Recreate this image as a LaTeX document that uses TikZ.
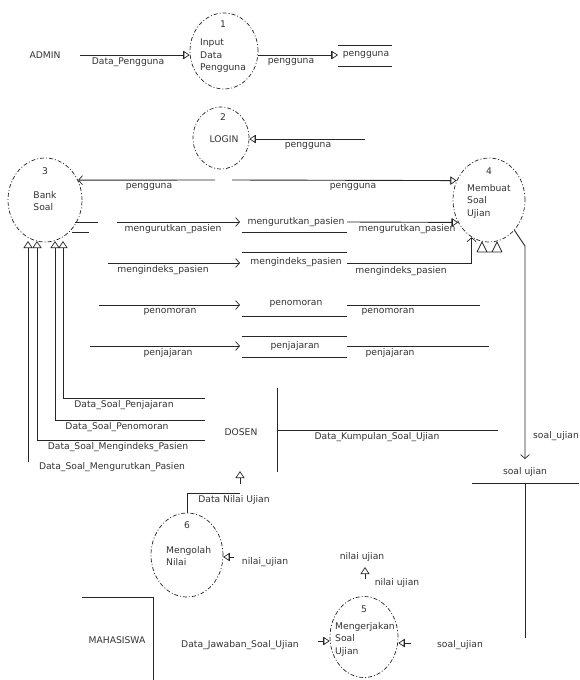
\documentclass[tikz,border=0pt]{standalone}
\usepackage{fontspec}
\setmainfont{DejaVu Sans}
\usetikzlibrary{shapes.geometric,arrows.meta}
\newcommand\lblfont{\fontsize{9.2}{12.5}\selectfont}
\begin{document}
\begin{tikzpicture}[x=1pt,y=-1pt,
 proc/.style={ellipse, draw=black!85, dash pattern=on 4pt off 2pt on 1pt off 2pt, line width=0.7pt, inner sep=0pt},
 lbl/.style={font=\lblfont, text=black!80, inner sep=0pt},
 ln/.style={draw=black!85, line width=0.9pt},
 tri/.style={ln, -{Bar[width=8pt,line width=0.7pt]Triangle[open,length=6pt,width=8pt,line width=0.7pt]}},
 chev/.style={ln, -{Straight Barb[length=4pt,width=9pt,line width=0.7pt]}},
 opentri/.style={ln, -{Triangle[open,length=7pt,width=9pt,line width=0.7pt]}}]
\useasboundingbox (0,0) rectangle (579,680);
\fill[white] (0,0) rectangle (579,680);

% processes
\node[proc, minimum width=68pt, minimum height=76pt] (p1) at (224,51) {};
\node[proc, minimum width=56pt, minimum height=62pt] (p2) at (221,138) {};
\node[proc, minimum width=74pt, minimum height=84pt] (p3) at (45,200) {};
\node[proc, minimum width=72pt, minimum height=84pt] (p4) at (489,200) {};
\node[proc, minimum width=72pt, minimum height=84pt] (p6) at (187,555) {};
\node[proc, minimum width=68pt, minimum height=81pt] (p5) at (364,637) {};

% process texts
\node[lbl] (p1n) at (223,24) {1};
\node[lbl, anchor=west, align=left] (p1t) at (200,56) {Input\\Data\\Pengguna};
\node[lbl] (p2n) at (223,117) {2};
\node[lbl] (p2t) at (224,139) {LOGIN};
\node[lbl] (p3n) at (45,171) {3};
\node[lbl, align=left] (p3t) at (45,201) {Bank\\Soal};
\node[lbl] (p4n) at (489,171) {4};
\node[lbl, anchor=west, align=left] (p4t) at (467,201) {Membuat\\Soal\\Ujian};
\node[lbl] (p6n) at (187,525) {6};
\node[lbl, anchor=west, align=left] (p6t) at (166,556) {Mengolah\\Nilai};
\node[lbl] (p5n) at (364,609) {5};
\node[lbl, anchor=west, align=left] (p5t) at (335,639) {Mengerjakan\\Soal\\Ujian};

% external entities
\node[lbl] (admin) at (45,55) {ADMIN};
\node[lbl] (dosen) at (241,432) {DOSEN};
\node[lbl] (mhs) at (117,640) {MAHASISWA};
\draw[ln] (277,388) -- (277,472);
\draw[ln] (82,597) -- (153,597) -- (153,680);

% data stores
\node[lbl] (sPeng) at (366,55) {pengguna};
\node[lbl] (sUrut) at (296,222) {mengurutkan\_pasien};
\node[lbl] (sIdx) at (296,262) {mengindeks\_pasien};
\node[lbl] (sNom) at (296,304) {penomoran};
\node[lbl] (sJaj) at (295,346) {penjajaran};
\node[lbl] (sSoal) at (525,472) {soal ujian};
\draw[ln] (338,45) -- (392,45) (338,66) -- (392,66);
\draw[ln] (242,232) -- (347,232);
\draw[ln] (242,252) -- (347,252);
\draw[ln] (242,316) -- (347,316);
\draw[ln] (242,336) -- (347,336) (242,357) -- (347,357);
\draw[ln] (472,483) -- (579,483);
\draw[ln] (75,222) -- (98,222) (72,232) -- (89,232);

% ADMIN -> 1
\coordinate (aR) at (80,55);
\draw[tri] (aR) -- (aR -| p1.west);
\node[lbl] (l1) at (128,62) {Data\_Pengguna};
% 1 -> pengguna
\coordinate (s1L) at (338,55);
\draw[tri] (s1L -| p1.east) -- (s1L);
\node[lbl] (l2) at (291,62) {pengguna};
% pengguna -> LOGIN
\coordinate (lgR) at (365,139);
\draw[tri] (lgR) -- (lgR -| p2.east);
\node[lbl] (l3) at (308,146) {pengguna};
% pengguna -> 3 and 4
\coordinate (pgL) at (215,180);
\coordinate (pgR) at (232,180);
\draw[chev] (pgL) -- (p3.31);
\draw[tri] (pgR) -- (p4.149);
\node[lbl] (l4) at (149,187) {pengguna};
\node[lbl] (l5) at (353,187) {pengguna};

% mengurutkan_pasien
\coordinate (u1L) at (117,222); \coordinate (u1T) at (240,222); \coordinate (u1R) at (347,222);
\draw[chev] (u1L) -- (u1T);
\draw[tri] (u1R) -- (p4.216);
\node[lbl] (l6) at (173,229) {mengurutkan\_pasien};
\node[lbl] (l7) at (407,229) {mengurutkan\_pasien};
% mengindeks_pasien
\coordinate (i1L) at (108,263); \coordinate (i1T) at (240,263); \coordinate (i1R) at (347,263);
\draw[chev] (i1L) -- (i1T);
\draw[chev] (i1R) -| (p4.245);
\node[lbl] (l8) at (163,270) {mengindeks\_pasien};
\node[lbl] (l9) at (401,271) {mengindeks\_pasien};
% penomoran
\coordinate (n1L) at (99,305); \coordinate (n1T) at (240,305); \coordinate (n1R) at (347,305); \coordinate (n1E) at (480,305);
\draw[chev] (n1L) -- (n1T);
\draw[ln] (n1R) -- (n1E);
\node[lbl] (l10) at (170,312) {penomoran};
\node[lbl] (l11) at (388,312) {penomoran};
% penjajaran
\coordinate (j1L) at (90,346); \coordinate (j1T) at (240,346); \coordinate (j1R) at (347,346); \coordinate (j1E) at (489,346);
\draw[chev] (j1L) -- (j1T);
\draw[ln] (j1R) -- (j1E);
\node[lbl] (l12) at (168,353) {penjajaran};
\node[lbl] (l13) at (390,353) {penjajaran};
% arrow heads under 4
\draw[ln, line width=0.7pt] (477,252) -- (482,242) -- (487,252) (492,252) -- (497,242) -- (502,252) (477,252) -- (502,252);

% DOSEN -> Bank Soal
\coordinate (b1) at (63,241); \coordinate (b2) at (55,241); \coordinate (b3) at (37,241); \coordinate (b4) at (28,241);
\coordinate (d1) at (205,398); \coordinate (d2) at (205,420); \coordinate (d3) at (205,440); \coordinate (d4) at (28,462);
\draw[opentri] (d1) -| (b1);
\draw[opentri] (d2) -| (b2);
\draw[opentri] (d3) -| (b3);
\draw[opentri] (d4) -- (b4);
\node[lbl] (l14) at (124,405) {Data\_Soal\_Penjajaran};
\node[lbl] (l15) at (117,427) {Data\_Soal\_Penomoran};
\node[lbl] (l16) at (118,447) {Data\_Soal\_Mengindeks\_Pasien};
\node[lbl] (l17) at (112,467) {Data\_Soal\_Mengurutkan\_Pasien};

% DOSEN data kumpulan
\coordinate (k1) at (277,430); \coordinate (k2) at (498,430);
\draw[ln] (k1) -- (k2);
\node[lbl] (l18) at (377,437) {Data\_Kumpulan\_Soal\_Ujian};

% 4 -> soal ujian
\coordinate (sjTop) at (525,246); \coordinate (sjIn) at (525,459);
\draw[chev] (p4.-50) -- (sjTop) -- (sjIn);
\node[lbl, anchor=west] (l19) at (533,436) {soal\_ujian};
\coordinate (sjOut) at (525,483); \coordinate (sjBot) at (525,638);
\draw[ln] (sjOut) -- (sjBot);

% soal ujian -> 5
\coordinate (p5r) at (411,643);
\draw[tri] (p5r) -- (p5r -| p5.east);
\node[lbl] (l20) at (460,645) {soal\_ujian};
% MAHASISWA -> 5
\coordinate (p5l) at (318,641);
\draw[tri] (p5l) -- (p5l -| p5.west);
\node[lbl] (l21) at (240,645) {Data\_Jawaban\_Soal\_Ujian};
% nilai ujian above 5
\node[lbl] (l22) at (362,557) {nilai ujian};
\coordinate (nvB) at (365,579); \coordinate (nvT) at (365,567);
\draw[opentri] (nvB) -- (nvT);
\node[lbl] (l23) at (397,583) {nilai ujian};

% nilai -> 6
\coordinate (p6r) at (234,557);
\draw[tri] (p6r) -- (p6r -| p6.east);
\node[lbl] (l24) at (265,562) {nilai\_ujian};
% 6 -> DOSEN
\coordinate (dn) at (240,493);
\draw[ln] (p6.north) |- (dn);
\node[lbl] (l25) at (234,500) {Data Nilai Ujian};
\coordinate (dnB) at (240,484); \coordinate (dnT) at (240,471);
\draw[opentri] (dnB) -- (dnT);
\end{tikzpicture}
\end{document}
